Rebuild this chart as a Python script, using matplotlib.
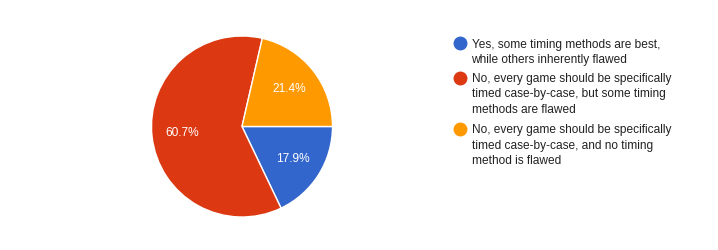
import matplotlib
matplotlib.use("Agg")
import matplotlib.pyplot as plt

# survey answers, in drawing order (clockwise from 3 o'clock)
labels = [
    "Yes, some timing methods are best,\nwhile others inherently flawed",
    "No, every game should be specifically\ntimed case-by-case, but some timing\nmethods are flawed",
    "No, every game should be specifically\ntimed case-by-case, and no timing\nmethod is flawed",
]
shares = [17.9, 60.7, 21.4]
colors = ["#3366CC", "#DC3912", "#FF9900"]

plt.rcParams["font.family"] = ["Liberation Sans", "DejaVu Sans"]

W, H = 718, 250
fig = plt.figure(figsize=(W / 100, H / 100), dpi=100)
fig.patch.set_facecolor("white")

# pie: center (242, 126.5) px, radius 90 px
cx, cy, r = 242, 126.5, 90.5
ax = fig.add_axes([(cx - r) / W, (H - cy - r) / H, 2 * r / W, 2 * r / H])
wedges, texts, autotexts = ax.pie(
    shares, colors=colors, startangle=0, counterclock=False,
    autopct="%.1f%%", pctdistance=0.67,
    wedgeprops=dict(edgecolor="white", linewidth=1),
    textprops=dict(color="white", fontsize=8.6),
)
ax.set_xlim(-1, 1)
ax.set_ylim(-1, 1)
ax.set_aspect("equal")
ax.axis("off")

# legend drawn by hand in pixel coords
lg = fig.add_axes([0, 0, 1, 1])
lg.set_xlim(0, W)
lg.set_ylim(H, 0)
lg.axis("off")

item_y = [43.3, 77.7, 129.0]
for y0, lab, col in zip(item_y, labels, colors):
    lg.plot(460, y0, "o", ms=9, color=col, mec=col)
    for i, line in enumerate(lab.split("\n")):
        lg.text(471.5, y0 + i * 15.3 + 4.3, line, fontsize=8.6, color="#222222",
                ha="left", va="baseline")

fig.savefig("out.png", dpi=100)
